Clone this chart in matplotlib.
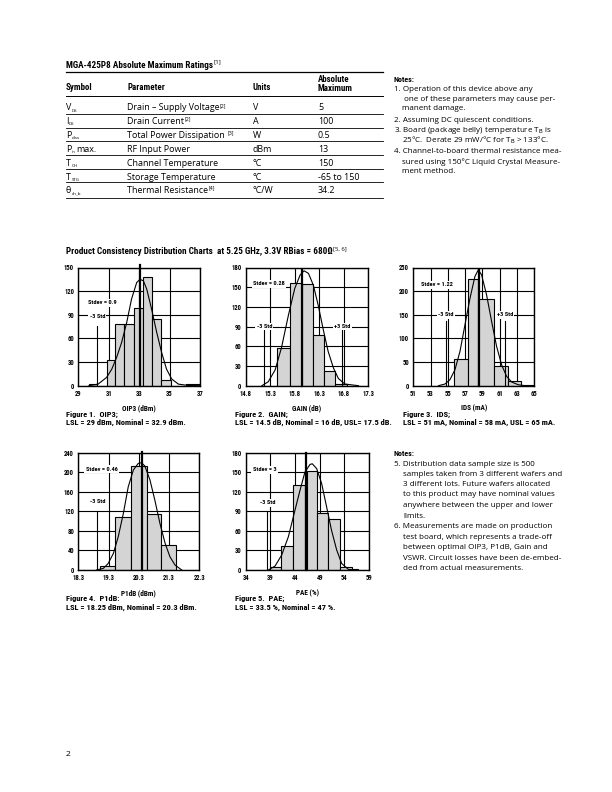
import matplotlib
matplotlib.use('Agg')
import matplotlib.pyplot as plt
from matplotlib import font_manager
from matplotlib.lines import Line2D

avail = {f.name for f in font_manager.fontManager.ttflist}
def pick(*names):
    for n in names:
        if n in avail:
            return n
    return 'DejaVu Sans'

COND = pick('Liberation Sans Narrow', 'Roboto Condensed', 'Open Sans Condensed', 'Liberation Sans')
REG = pick('Liberation Sans Narrow', 'Open Sans', 'Liberation Sans')

W, H = 612, 792
fig = plt.figure(figsize=(6.12, 7.92), dpi=100)
fig.patch.set_facecolor('white')

def fx(x): return x / W
def fy(y): return 1 - y / H

def T(x, y, s, size, bold=False, family=None, ha='left', va='center', **kw):
    return fig.text(fx(x), fy(y), s, fontsize=size,
                    fontweight='bold' if bold else 'normal',
                    family=family or (COND if bold else REG), ha=ha, va=va, **kw)

renderer = fig.canvas.get_renderer()
def right_edge(t):
    bb = t.get_window_extent(renderer=renderer)
    return bb.x1

def Tsup(x, y, s, sup, size, bold=False, family=None, supsize=None, dy=-3):
    t = T(x, y, s, size, bold=bold, family=family)
    xr = right_edge(t)
    T(xr + 0.5, y + dy, sup, supsize or size * 0.6, bold=False, family=REG)
    return t

def Tsub(x, y, s, sub, size, extra='', family=None):
    t = T(x, y, s, size, family=family)
    xr = right_edge(t)
    t2 = T(xr + 0.3, y + 2.8, sub, size * 0.5, family=REG)
    if extra:
        xr2 = right_edge(t2)
        T(xr2 + 1.0, y, extra, size, family=family)

def HL(x0, x1, y, lw=0.8):
    fig.add_artist(Line2D([fx(x0), fx(x1)], [fy(y), fy(y)],
                          transform=fig.transFigure, color='black', lw=lw))

# ---------------- Table data ----------------
tbl_symbols = [('V', 'DS', ''), ('I', 'DS', ''), ('P', 'diss', ''), ('P', 'in', 'max.'),
               ('T', 'CH', ''), ('T', 'STG', ''), ('θ', 'ch_b', '')]
tbl_params = ['Drain – Supply Voltage', 'Drain Current', 'Total Power Dissipation ',
              'RF Input Power', 'Channel Temperature', 'Storage Temperature', 'Thermal Resistance']
tbl_param_sups = ['[2]', '[2]', '[3]', '', '', '', '[4]']
tbl_units = ['V', 'A', 'W', 'dBm', '°C', '°C', '°C/W']
tbl_max = ['5', '100', '0.5', '13', '150', '-65 to 150', '34.2']

# Title
Tsup(66, 65, 'MGA-425P8 Absolute Maximum Ratings', '[1]', 6.6, bold=True, supsize=4.5, dy=-3)
HL(66, 383, 71.5, lw=0.9)
T(66, 88, 'Symbol', 6.4, bold=True)
T(127, 88, 'Parameter', 6.4, bold=True)
T(253, 88, 'Units', 6.4, bold=True)
T(318, 80, 'Absolute', 6.4, bold=True)
T(318, 88.5, 'Maximum', 6.4, bold=True)
HL(66, 383, 96, lw=0.7)
row_y = [108, 121.5, 135, 149, 163, 177, 190.5]
line_y = [114, 127.5, 141, 155, 168.5, 182, 198]
for i in range(len(tbl_params)):
    y = row_y[i]
    s, sub, extra = tbl_symbols[i]
    Tsub(66, y, s, sub, 6.4, extra=extra)
    if tbl_param_sups[i]:
        Tsup(127, y, tbl_params[i], tbl_param_sups[i], 6.4, supsize=3.8, dy=-2.5)
    else:
        T(127, y, tbl_params[i], 6.4)
    T(253, y, tbl_units[i], 6.4)
    T(318, y, tbl_max[i], 6.4)
    HL(66, 383, line_y[i], lw=0.6)

# Notes (top)
notes1 = [
    (394, 79.3, 'Notes:', True),
    (394, 89.3, '1. Operation of this device above any', False),
    (404, 99.3, 'one of these parameters may cause per-', False),
    (402, 109, 'manent damage.', False),
    (394, 120, '2. Assuming DC quiescent conditions.', False),
    (394, 130.7, '3. Board (package belly) temperature T$_{\\rm B}$ is', False),
    (402, 140.7, '25°C.  Derate 29 mW/°C for T$_{\\rm B}$ > 133°C.', False),
    (394, 151.7, '4. Channel-to-board thermal resistance mea-', False),
    (402, 161.7, 'sured using 150°C Liquid Crystal Measure-', False),
    (402, 171.7, 'ment method.', False),
]
for x, y, s, b in notes1:
    T(x, y, s, 5.8 if b else 5.8, bold=b)

notes2 = [
    (394, 453.3, 'Notes:', True),
    (394, 464, '5. Distribution data sample size is 500', False),
    (403, 474.3, 'samples taken from 3 different wafers and', False),
    (403, 484.3, '3 different lots. Future wafers allocated', False),
    (403, 495, 'to this product may have nominal values', False),
    (403, 505.7, 'anywhere between the upper and lower', False),
    (403, 516, 'limits.', False),
    (394, 526.7, '6. Measurements are made on production', False),
    (403, 537.3, 'test board, which represents a trade-off', False),
    (403, 547.7, 'between optimal OIP3, P1dB, Gain and', False),
    (403, 558, 'VSWR. Circuit losses have been de-embed-', False),
    (403, 568.3, 'ded from actual measurements.', False),
]
for x, y, s, b in notes2:
    T(x, y, s, 5.8, bold=b)

# Section title
Tsup(66, 252, 'Product Consistency Distribution Charts  at 5.25 GHz, 3.3V RBias = 680Ω',
     '[5, 6]', 6.6, bold=True, supsize=4.2, dy=-3)

T(66, 754, '2', 6.0)

# ---------------- Chart data ----------------
# Chart 1: OIP3
c1_left = [29.7, 30.9, 31.42, 32.03, 32.67, 33.28, 33.87, 34.44, 36.1]
c1_right = [30.25, 31.42, 32.03, 32.67, 33.28, 33.87, 34.44, 35.08, 37.0]
c1_h = [2, 33, 78, 78, 98, 138, 85, 7, 2]
c1_cx = [29.7, 30.3, 30.86, 31.2, 31.52, 31.85, 32.18, 32.5, 32.84, 33.06, 33.28, 33.5,
         33.82, 34.15, 34.48, 34.8, 35.14, 35.58, 36.24, 37.0]
c1_cy = [0, 2, 10.5, 21, 36, 55, 80, 110, 131, 135, 133, 122.5, 97, 68, 42, 21, 8.5, 2, 0.3, 0]

# Chart 2: GAIN
c2_left = [15.445, 15.70, 15.955, 16.18, 16.40, 16.63]
c2_right = [15.70, 15.955, 16.18, 16.40, 16.63, 16.86]
c2_h = [58, 157, 155, 77, 22, 3]
c2_cx = [15.13, 15.26, 15.40, 15.53, 15.67, 15.80, 15.91, 15.99, 16.08, 16.18, 16.28,
         16.38, 16.48, 16.59, 16.69, 16.82, 17.1]
c2_cy = [0, 6, 24, 58, 107, 148, 168.6, 175, 171, 153, 122, 86, 52.6, 26.8, 11, 2.6, 0]

# Chart 3: IDS
c3_left = [55.74, 57.29, 58.52, 60.37, 61.91, 63.46]
c3_right = [57.29, 58.52, 60.37, 61.91, 63.46, 65.0]
c3_h = [56, 226, 184, 42, 10.6, 2]
c3_cx = [53.9, 54.66, 55.24, 55.82, 56.4, 56.98, 57.56, 58.13, 58.52, 58.9, 59.48, 60.06,
         60.64, 61.22, 61.8, 62.38, 63.15, 63.9]
c3_cy = [0, 3.5, 12.7, 33.8, 72.5, 129, 185, 231, 245, 234.5, 192, 136, 83, 44, 19.7, 7.7, 2, 0]

# Chart 4: P1dB
c4_left = [19.02, 19.51, 20.03, 20.56, 21.05]
c4_right = [19.51, 20.03, 20.56, 21.05, 21.52]
c4_h = [8, 108, 213, 114, 52]
c4_cx = [18.9, 19.13, 19.29, 19.46, 19.62, 19.79, 19.95, 20.12, 20.28, 20.39, 20.5, 20.67,
         20.83, 21.0, 21.17, 21.33, 21.5, 21.72]
c4_cy = [0, 3.4, 13.6, 34, 68, 116, 170, 204.5, 218, 219.5, 212.7, 184, 143, 95, 54.5, 27, 10, 0]

# Chart 5: PAE
c5_left = [38.93, 41.16, 43.66, 46.36, 48.39, 50.76, 53.12, 55.5]
c5_right = [41.16, 43.66, 46.03, 48.39, 50.76, 53.12, 55.49, 56.8]
c5_h = [4, 37, 131, 152, 88, 78, 4, 1]
c5_cx = [38.6, 39.95, 41.3, 42.65, 44.0, 45.0, 46.0, 47.04, 47.5, 48.4, 49.4, 50.4, 51.4,
         52.45, 53.46, 54.8, 56.5]
c5_cy = [0, 6, 23, 51, 92, 122, 150, 162, 163, 155.5, 132.6, 97, 61, 30.6, 10, 1, 0]

charts = [
    dict(rect=(78.3, 267.5, 200.0, 385.7), xlim=(29, 37), xticks=[29, 31, 33, 35, 37],
         ylim=(0, 150), yticks=[0, 30, 60, 90, 120, 150],
         left=c1_left, right=c1_right, h=c1_h, cx=c1_cx, cy=c1_cy,
         nominal=(33.05, 153), std=[(30.25, 76, '-3 Std', 88)],
         stdev=(30.6, 105, 'Stdev = 0.9'), xlabel='OIP3 (dBm)',
         cap=(66, 'Figure 1.  OIP3;', 'LSL = 29 dBm, Nominal = 32.9 dBm.'), row=0),
    dict(rect=(245.7, 267.5, 368.3, 385.7), xlim=(14.8, 17.3),
         xticks=[14.8, 15.3, 15.8, 16.3, 16.8, 17.3],
         ylim=(0, 180), yticks=[0, 30, 60, 90, 120, 150, 180],
         left=c2_left, right=c2_right, h=c2_h, cx=c2_cx, cy=c2_cy,
         nominal=(15.955, 176), std=[(15.18, 85, '-3 Std', 90), (16.77, 85, '+3 Std', 90)],
         stdev=(15.28, 155, 'Stdev = 0.28'), xlabel='GAIN (dB)',
         cap=(235, 'Figure 2.  GAIN;', 'LSL = 14.5 dB, Nominal = 16 dB, USL= 17.5 dB.'), row=0),
    dict(rect=(413.3, 267.5, 534.3, 385.7), xlim=(51, 65),
         xticks=[51, 53, 55, 57, 59, 61, 63, 65],
         ylim=(0, 250), yticks=[0, 50, 100, 150, 200, 250],
         left=c3_left, right=c3_right, h=c3_h, cx=c3_cx, cy=c3_cy,
         nominal=(58.64, 245), std=[(54.78, 136, '-3 Std', 150), (61.6, 136, '+3 Std', 150)],
         stdev=(53.7, 213, 'Stdev = 1.22'), xlabel='IDS (mA)',
         cap=(403, 'Figure 3.  IDS;', 'LSL = 51 mA, Nominal = 58 mA, USL = 65 mA.'), row=0),
    dict(rect=(78.3, 452.7, 199.3, 570.0), xlim=(18.3, 22.3),
         xticks=[18.3, 19.3, 20.3, 21.3, 22.3],
         ylim=(0, 240), yticks=[0, 40, 80, 120, 160, 200, 240],
         left=c4_left, right=c4_right, h=c4_h, cx=c4_cx, cy=c4_cy,
         nominal=(20.39, 242), std=[(18.93, 121, '-3 Std', 140)],
         stdev=(19.07, 206, 'Stdev = 0.46'), xlabel='P1dB (dBm)',
         cap=(66, 'Figure 4.  P1dB:', 'LSL = 18.25 dBm, Nominal = 20.3 dBm.'), row=1),
    dict(rect=(245.7, 452.7, 369.0, 570.0), xlim=(34, 59),
         xticks=[34, 39, 44, 49, 54, 59],
         ylim=(0, 180), yticks=[0, 30, 60, 90, 120, 150, 180],
         left=c5_left, right=c5_right, h=c5_h, cx=c5_cx, cy=c5_cy,
         nominal=(46.16, 180), std=[(38.4, 90, '-3 Std', 103)],
         stdev=(37.8, 154, 'Stdev = 3'), xlabel='PAE (%)',
         cap=(235, 'Figure 5.  PAE;', 'LSL = 33.5 %, Nominal = 47 %.'), row=1),
]

GRAY = '#d4d4d4'
for c in charts:
    l, t, r, b = c['rect']
    ax = fig.add_axes([fx(l), fy(b), (r - l) / W, (b - t) / H])
    ax.set_xlim(*c['xlim'])
    ax.set_ylim(*c['ylim'])
    ax.set_xticks(c['xticks'])
    ax.set_xticklabels([('%g' % v) for v in c['xticks']])
    ax.set_yticks(c['yticks'])
    ax.set_yticklabels([('%g' % v) for v in c['yticks']])
    ax.grid(True, color='black', lw=0.8)
    ax.set_axisbelow(True)
    for sp in ax.spines.values():
        sp.set_linewidth(1.0)
    ax.tick_params(length=0, pad=3, labelsize=4.8)
    for lab in ax.get_xticklabels() + ax.get_yticklabels():
        lab.set_fontfamily(COND)
        lab.set_fontweight('bold')
    widths = [rr - ll for ll, rr in zip(c['left'], c['right'])]
    ax.bar(c['left'], c['h'], width=widths, align='edge', color=GRAY,
           edgecolor='black', linewidth=0.8, zorder=2)
    ax.plot(c['cx'], c['cy'], color='black', lw=0.8, zorder=3)
    nx, ntop = c['nominal']
    ax.plot([nx, nx], [0, ntop], color='black', lw=1.6, zorder=4, clip_on=False)
    for sx, stop, slab, sly in c['std']:
        ax.plot([sx, sx], [0, stop], color='black', lw=0.8, zorder=4)
        ax.text(sx, sly, slab, fontsize=4.5, fontweight='bold', family=COND,
                ha='center', va='center', zorder=5,
                bbox=dict(facecolor='white', edgecolor='none', pad=1.0))
    stx, sty, stt = c['stdev']
    ax.text(stx, sty, stt, fontsize=4.5, fontweight='bold', family=COND,
            ha='center', va='center', zorder=5,
            bbox=dict(facecolor='white', edgecolor='none', pad=1.0))
    ax.set_xlabel(c['xlabel'], fontsize=5.2, fontweight='bold', family=COND, labelpad=5)
    cx0, cap1, cap2 = c['cap']
    base = 414 if c['row'] == 0 else 598.5
    T(cx0, base, cap1, 6.0, bold=True)
    T(cx0, base + 8.8, cap2, 6.0, bold=True)

fig.savefig('out.png', dpi=100)
